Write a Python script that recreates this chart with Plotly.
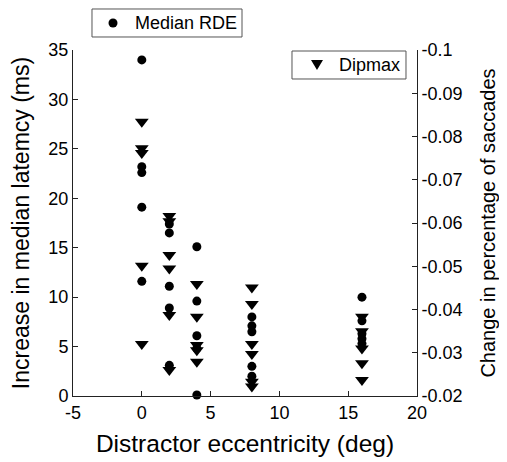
import plotly.graph_objects as go

# Median RDE (left axis, ms)
rde_x = [0, 0, 0, 0, 0,
         2, 2, 2, 2, 2,
         4, 4, 4, 4, 4,
         8, 8, 8, 8, 8,
         16, 16, 16, 16, 16]
rde_y = [34.0, 23.2, 22.6, 19.1, 11.6,
         17.4, 16.5, 11.1, 8.9, 3.1,
         15.1, 9.6, 6.1, 4.8, 0.1,
         8.0, 7.1, 6.5, 3.0, 2.0,
         10.0, 7.6, 6.3, 5.8, 5.3]

# Dipmax (right axis, change in percentage of saccades)
dip_x = [0, 0, 0, 0, 0,
         2, 2, 2, 2, 2, 2,
         4, 4, 4, 4, 4,
         8, 8, 8, 8, 8, 8,
         16, 16, 16, 16, 16]
dip_y = [-0.0834, -0.0773, -0.0762, -0.0501, -0.0320,
         -0.0616, -0.0604, -0.0526, -0.0495, -0.0387, -0.0260,
         -0.0459, -0.0383, -0.0318, -0.0306, -0.0279,
         -0.0451, -0.0413, -0.0320, -0.0297, -0.0233, -0.0222,
         -0.0383, -0.0350, -0.0310, -0.0276, -0.0237]

x_ticks = [-5, 0, 5, 10, 15, 20]
x_ticktext = ["-5", "0", "5", "10", "15", "20"]
y_ticks = [0, 5, 10, 15, 20, 25, 30, 35]
y2_ticks = [-0.1, -0.09, -0.08, -0.07, -0.06, -0.05, -0.04, -0.03, -0.02]
y2_ticktext = ["-0.1", "-0.09", "-0.08", "-0.07", "-0.06", "-0.05", "-0.04", "-0.03", "-0.02"]

series_names = ["Median RDE", "Dipmax"]

FONT = "Arial, Liberation Sans, Helvetica, sans-serif"
LC = "#222222"

fig = go.Figure()
fig.add_trace(go.Scatter(
    x=rde_x, y=rde_y, mode="markers", name=series_names[0],
    marker=dict(symbol="circle", size=9, color="black"),
    cliponaxis=False, yaxis="y"))
fig.add_trace(go.Scatter(
    x=dip_x, y=dip_y, mode="markers", name=series_names[1],
    marker=dict(symbol="triangle-down", size=12, color="black"),
    cliponaxis=False, yaxis="y2"))

axis_common = dict(showline=True, linecolor=LC, linewidth=1, ticks="inside",
                   ticklen=5, tickcolor=LC, showgrid=False, zeroline=False,
                   automargin=False,
                   tickfont=dict(size=18, color="black", family=FONT))

# Boxed legend keys (drawn in paper coordinates, like the original's separate legends)
BOX = "#555555"
shapes = [
    dict(type="rect", xref="paper", yref="paper", x0=0.0552, x1=0.4913, y0=1.0376, y1=1.1185,
         line=dict(color=BOX, width=1), fillcolor="white", layer="above"),
    dict(type="circle", xref="paper", yref="paper", x0=0.1032, x1=0.1294, y0=1.065, y1=1.091,
         line=dict(color="black", width=0), fillcolor="black", layer="above"),
    dict(type="rect", xref="paper", yref="paper", x0=0.6366, x1=0.968, y0=0.9162, y1=0.9971,
         line=dict(color=BOX, width=1), fillcolor="white", layer="above"),
    dict(type="path", xref="paper", yref="paper",
         path="M 0.6919,0.9711 L 0.7267,0.9711 L 0.7093,0.9422 Z",
         line=dict(color="black", width=0), fillcolor="black", layer="above"),
]
annotations = [
    dict(text=series_names[0], xref="paper", yref="paper", x=0.1744, y=1.078,
         xanchor="left", yanchor="middle", showarrow=False, font=dict(size=18, color="black")),
    dict(text=series_names[1], xref="paper", yref="paper", x=0.7674, y=0.9566,
         xanchor="left", yanchor="middle", showarrow=False, font=dict(size=18, color="black")),
]

# page body has an 8px margin, so the figure is drawn 8px smaller and offset
fig.update_layout(
    width=499, height=454,
    margin=dict(l=65, r=90, t=42, b=66),
    paper_bgcolor="white", plot_bgcolor="white",
    font=dict(family=FONT, size=18, color="black"),
    xaxis=dict(range=[-5, 20], tickvals=x_ticks, ticktext=x_ticktext,
               title=dict(text="Distractor eccentricity (deg)", font=dict(size=24.5), standoff=13),
               **axis_common),
    yaxis=dict(range=[0, 35], tickvals=y_ticks,
               title=dict(text="Increase in median latemcy (ms)", font=dict(size=23), standoff=16),
               **axis_common),
    yaxis2=dict(range=[-0.02, -0.1], tickvals=y2_ticks, ticktext=y2_ticktext,
                overlaying="y", side="right",
                title=dict(text="Change in percentage of saccades", font=dict(size=20), standoff=19),
                **axis_common),
    shapes=shapes,
    annotations=annotations,
    showlegend=False,
)

fig.write_html("out.html")
